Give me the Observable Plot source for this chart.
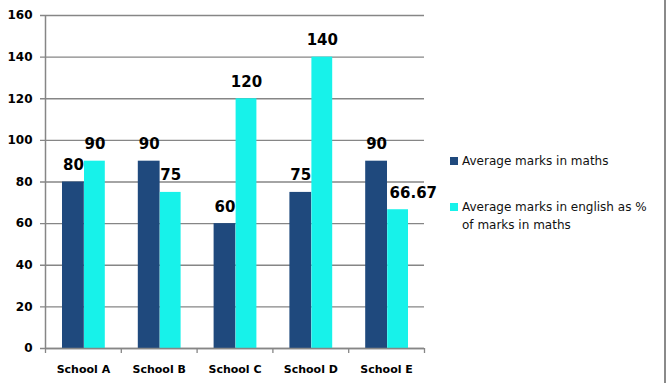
<!DOCTYPE html>
<html>
<head>
<meta charset="utf-8">
<script src="https://cdn.jsdelivr.net/npm/d3@7"></script>
<script src="https://cdn.jsdelivr.net/npm/@observablehq/plot@0.6"></script>
<style>
  html, body { margin: 0; padding: 0; background: white; }
  #wrap { position: relative; width: 666px; height: 383px; overflow: hidden; }
  #border { position: absolute; left: 664px; top: 0; width: 1.5px; height: 383px; background: #8a8a8a; }
  .leg { position: absolute; font-family: "DejaVu Sans", sans-serif; font-size: 12px; color: #111; line-height: 18px; }
  .sw { position: absolute; width: 8px; height: 8px; }
</style>
</head>
<body>
<div id="wrap">
  <div id="chart"></div>
  <div id="border"></div>
</div>
<script>
const schools = ["School A", "School B", "School C", "School D", "School E"];
const mathsValues = [80, 90, 60, 75, 90];
const englishValues = [90, 75, 120, 140, 66.67];
const englishLabels = ["90", "75", "120", "140", "66.67"];
const yTicks = [0, 20, 40, 60, 80, 100, 120, 140, 160];
const seriesNames = ["Average marks in maths", "Average marks in english as % of marks in maths"];
const colors = ["#1F497D", "#17F2EA"];

const mathsData = schools.map((s, i) => ({school: s, value: mathsValues[i], label: String(mathsValues[i])}));
const engData = schools.map((s, i) => ({school: s, value: englishValues[i], label: englishLabels[i]}));

const W = 666, H = 383, ML = 45, MR = 242, MT = 15, MB = 35;
const half = (W - ML - MR) / schools.length / 2;
const grey = "#868686";

const chart = Plot.plot({
  width: W, height: H,
  marginLeft: ML, marginRight: MR, marginTop: MT, marginBottom: MB,
  x: {domain: schools, padding: 0, round: false, axis: null},
  y: {domain: [0, 160], axis: null},
  style: {fontFamily: "DejaVu Sans, sans-serif", background: "white", overflow: "visible"},
  marks: [
    Plot.ruleY(yTicks, {stroke: grey, strokeWidth: 1.3, insetLeft: -5}),
    Plot.axisY({ticks: yTicks, label: null, tickSize: 0, tickPadding: 13, fontWeight: "bold", fontSize: 12, fill: "black"}),
    Plot.barY(mathsData, {x: "school", y: "value", fill: colors[0], insetLeft: 17, insetRight: 37}),
    Plot.barY(engData, {x: "school", y: "value", fill: colors[1], insetLeft: 39, insetRight: 16}),
    Plot.ruleY([0], {stroke: grey, strokeWidth: 1.3}),
    Plot.ruleX([schools[0]], {y1: 0, y2: 160, dx: -half, stroke: grey, strokeWidth: 1.5}),
    Plot.ruleX(schools, {y1: 0, y2: 0, insetBottom: -5, dx: -half, stroke: grey, strokeWidth: 1.3}),
    Plot.ruleX([schools[schools.length - 1]], {y1: 0, y2: 0, insetBottom: -5, dx: half, stroke: grey, strokeWidth: 1.3}),
    Plot.axisX({label: null, tickSize: 0, tickPadding: 17, fontWeight: "bold", fontSize: 11, fill: "black"}),
    Plot.text(mathsData, {x: "school", y: "value", text: "label", dx: -10, dy: -12, lineAnchor: "bottom",
      fontSize: 15, fontWeight: "bold", fill: "black"}),
    Plot.text(engData.filter(d => !d.label.includes(".")), {x: "school", y: "value", text: "label", dx: 11.5, dy: -12, lineAnchor: "bottom",
      fontSize: 15, fontWeight: "bold", fill: "black"}),
    Plot.text(engData.filter(d => d.label.includes(".")), {x: "school", y: "value", text: "label", dx: 3, dy: -12, lineAnchor: "bottom",
      textAnchor: "start", fontSize: 15, fontWeight: "bold", fill: "black"})
  ]
});
document.getElementById("chart").appendChild(chart);

// legend
const wrap = document.getElementById("wrap");
const legendPos = [{sw: 157, txt: 152}, {sw: 203, txt: 198}];
seriesNames.forEach((name, i) => {
  const sw = document.createElement("div");
  sw.className = "sw";
  sw.style.left = "450px";
  sw.style.top = legendPos[i].sw + "px";
  sw.style.background = colors[i];
  wrap.appendChild(sw);
  const t = document.createElement("div");
  t.className = "leg";
  t.style.left = "462px";
  t.style.top = legendPos[i].txt + "px";
  t.style.width = "192px";
  t.textContent = name;
  wrap.appendChild(t);
});
</script>
</body>
</html>
